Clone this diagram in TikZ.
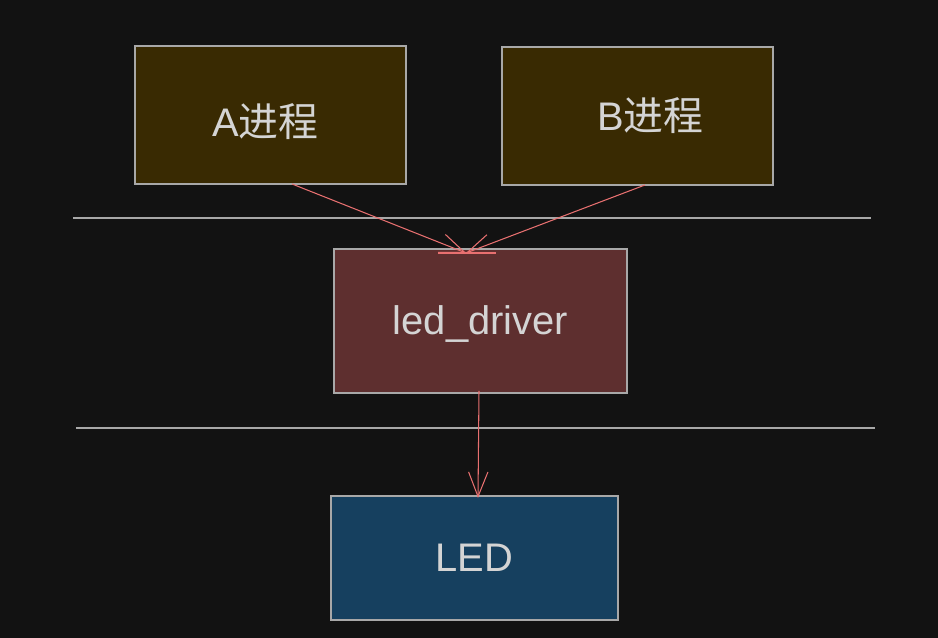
\documentclass[tikz,border=0pt]{standalone}
\usepackage{fontspec}
\setmainfont{Liberation Sans}
\newfontfamily\cjk{Noto Sans CJK SC}
\usetikzlibrary{arrows.meta, positioning}

\definecolor{bgdark}{HTML}{121212}
\definecolor{procfill}{HTML}{392A02}
\definecolor{drvfill}{HTML}{5E2F2F}
\definecolor{ledfill}{HTML}{16405F}
\definecolor{edgegray}{HTML}{A8A8A8}
\definecolor{textgray}{HTML}{D4D4D4}
\definecolor{arrred}{HTML}{E87070}

\begin{document}
\begin{tikzpicture}[
    x=0.02cm, y=-0.02cm,
    box/.style={draw=edgegray, rectangle, line width=0.8pt, inner sep=0pt, outer sep=0pt,
        text=textgray, font=\fontsize{22.7}{27}\selectfont, text depth=2pt, text height=17.8pt},
    sep/.style={draw=edgegray, line width=0.7pt},
    arr/.style={-{Straight Barb[length=14pt, width=11pt]}, draw=arrred, line width=0.6pt}
]
    % background and frame
    \fill[bgdark] (0,0) rectangle (938,638);
    \useasboundingbox (0,0) rectangle (938,638);

    % processes
    \node[box, fill=procfill, minimum width=5.42cm, minimum height=2.76cm, text height=27pt] (procA) at (270.5,115) {A{\cjk 进程}\kern0.2cm};
    \node[box, fill=procfill, minimum width=5.42cm, minimum height=2.76cm, text height=19pt] (procB) at (637.5,116) {\hspace{0.52cm}B{\cjk 进程}};

    % driver
    \node[box, fill=drvfill, minimum width=5.86cm, minimum height=2.88cm] (driver) at (480.5,321) {led\_driver};

    % hardware
    \node[box, fill=ledfill, minimum width=5.74cm, minimum height=2.48cm] (led) at (474.5,558) {LED};

    % layer separators
    \coordinate (sepAl) at (73,218);
    \coordinate (sepAr) at (871,218);
    \coordinate (sepBl) at (76,428);
    \coordinate (sepBr) at (875,428);
    \draw[sep] (sepAl) -- (sepAr);
    \draw[sep] (sepBl) -- (sepBr);

    % arrows
    \draw[arr] ([xshift=0.43cm]procA.south) -- ([xshift=-0.29cm, yshift=-0.08cm]driver.north);
    \draw[arr] ([xshift=0.15cm]procB.south) -- ([xshift=-0.29cm, yshift=-0.08cm]driver.north);
    \coordinate (tickL) at (438,253);
    \coordinate (tickR) at (496,253);
    \draw[draw=arrred, line width=0.6pt] (tickL) -- (tickR);
    \draw[arr] ([xshift=-0.03cm, yshift=0.04cm]driver.south) -- ([xshift=0.07cm, yshift=-0.04cm]led.north);
\end{tikzpicture}
\end{document}
